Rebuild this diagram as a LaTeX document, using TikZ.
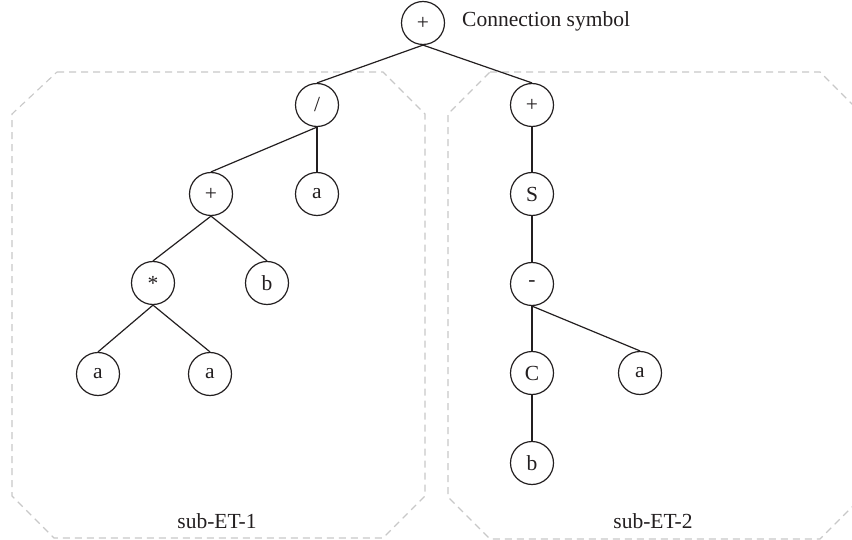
\documentclass[tikz,border=0pt]{standalone}
\usepackage{fontspec}
\setmainfont{Liberation Serif}
\definecolor{ink}{HTML}{231F20}
\definecolor{regiongray}{HTML}{C8C8C8}
\begin{document}
\begin{tikzpicture}[x=1pt,y=-1pt,
  tnode/.style={circle,draw=ink,line width=1.2pt,minimum size=43pt,inner sep=0pt,
    text=ink,font=\fontsize{21.5}{25}\selectfont},
  link/.style={draw=ink,line width=1.2pt},
  region/.style={draw=regiongray,line width=1.1pt,dash pattern=on 7pt off 5pt},
  lbl/.style={inner sep=0pt,text=ink,font=\fontsize{21.5}{25}\selectfont}]
\useasboundingbox (0,0) rectangle (852,540);
\clip (0,0) rectangle (852,540);

% dashed regions around the two sub-trees
\draw[region] (57,72) -- (383,72) -- (425,114) -- (425,496) -- (383,538)
  -- (54,538) -- (12,496) -- (12,114) -- cycle;
\draw[region] (490,72) -- (820,72) -- (862,114) -- (862,497) -- (820,539)
  -- (490,539) -- (448,497) -- (448,114) -- cycle;

% root
\node[tnode] (root) at (423,23) {+};
\node[lbl,anchor=base west] (rootlbl) at (462,27) {Connection symbol};

% left sub-tree
\node[tnode] (div) at (317,105) {/};
\node[tnode] (plusl) at (211,194) {+};
\node[tnode] (al) at (317,194) {a};
\node[tnode] (mul) at (153,283) {*};
\node[tnode] (bl) at (267,283) {b};
\node[tnode] (a1) at (98,374) {a};
\node[tnode] (a2) at (210,374) {a};

% right sub-tree
\node[tnode] (plusr) at (532,105) {+};
\node[tnode] (s) at (532,194) {S};
\node[tnode] (minus) at (532,284) {-};
\node[tnode] (c) at (532,373) {C};
\node[tnode] (ar) at (640,373) {a};
\node[tnode] (br) at (532,463) {b};

% region labels
\node[lbl,anchor=base] (lbl1) at (217,528) {sub-ET-1};
\node[lbl,anchor=base] (lbl2) at (653,528) {sub-ET-2};

% connectors
\draw[link] (root.south) -- (div.north);
\draw[link] (root.south) -- (plusr.north);
\draw[link] (div.south) -- (plusl.north);
\draw[link] (div.south) -- (al.north);
\draw[link] (plusl.south) -- (mul.north);
\draw[link] (plusl.south) -- (bl.north);
\draw[link] (mul.south) -- (a1.north);
\draw[link] (mul.south) -- (a2.north);
\draw[link] (plusr.south) -- (s.north);
\draw[link] (s.south) -- (minus.north);
\draw[link] (minus.south) -- (c.north);
\draw[link] (minus.south) -- (ar.north);
\draw[link] (c.south) -- (br.north);
\end{tikzpicture}
\end{document}
